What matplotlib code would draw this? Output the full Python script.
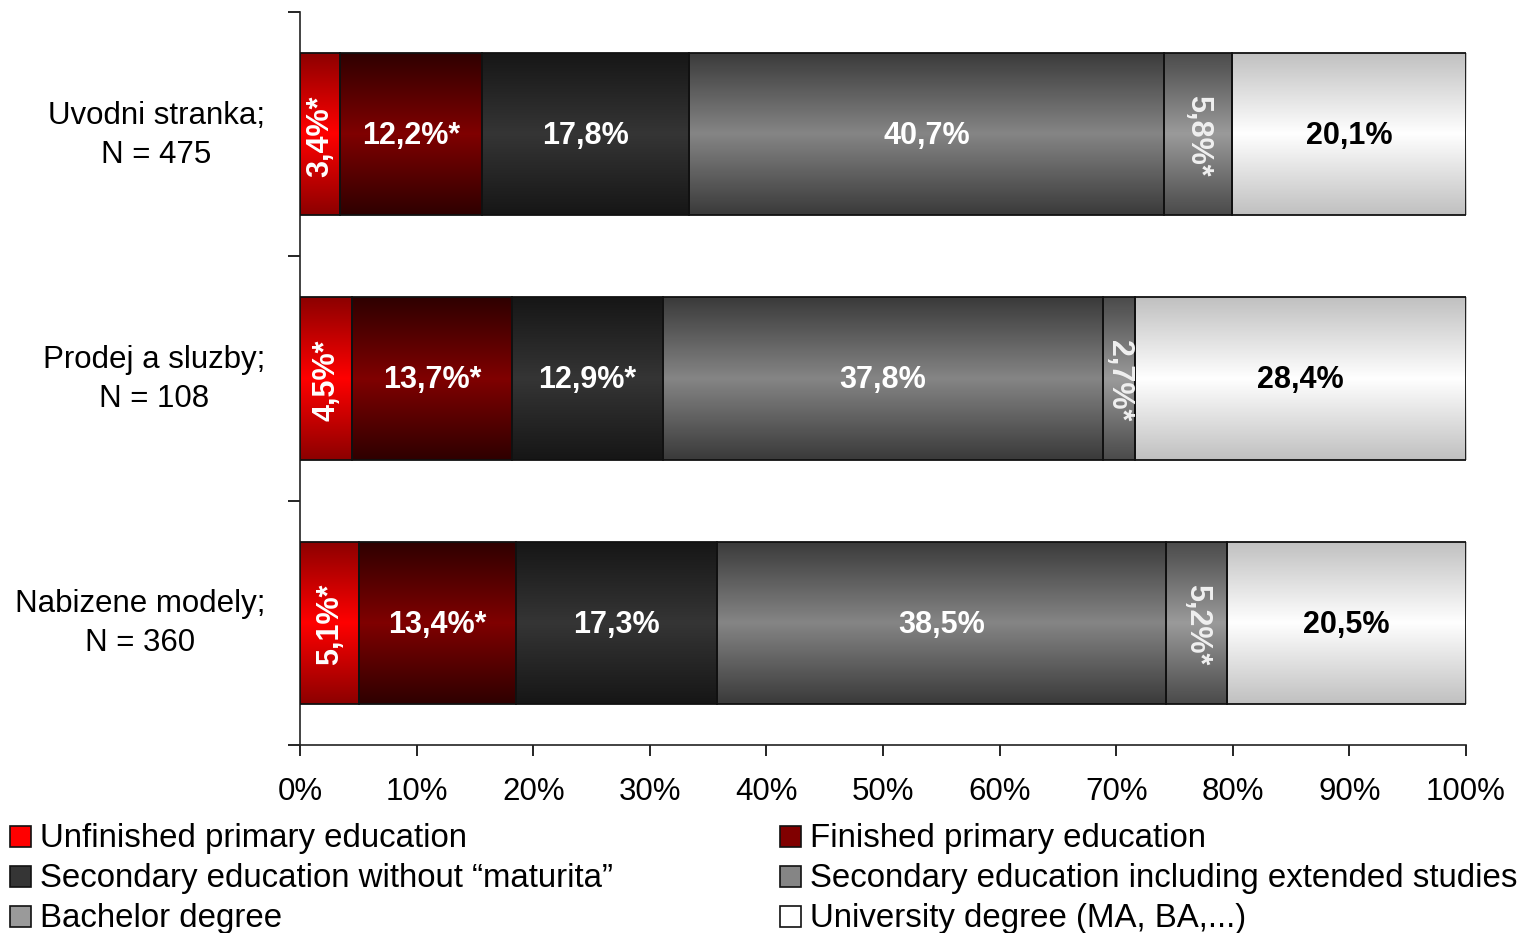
import numpy as np
import matplotlib
matplotlib.use("Agg")
import matplotlib.pyplot as plt
from matplotlib.patches import Rectangle

plt.rcParams['font.family'] = ['Liberation Sans', 'DejaVu Sans']

# --- data -------------------------------------------------------------
categories = ["Uvodni stranka;\nN = 475",
              "Prodej a sluzby;\nN = 108",
              "Nabizene modely;\nN = 360"]

series = ["Unfinished primary education",
          "Finished primary education",
          "Secondary education without \u201cmaturita\u201d",
          "Secondary education including extended studies",
          "Bachelor degree",
          "University degree (MA, BA,...)"]

# shares per row, in series order (percent)
uvodni = [3.4, 12.2, 17.8, 40.7, 5.8, 20.1]
prodej = [4.5, 13.7, 12.9, 37.8, 2.7, 28.4]
nabizene = [5.1, 13.4, 17.3, 38.5, 5.2, 20.5]
values = [uvodni, prodej, nabizene]

# small-sample flags (marked with an asterisk)
uvodni_flag = [True, True, False, False, True, False]
prodej_flag = [True, True, True, False, True, False]
nabizene_flag = [True, True, False, False, True, False]
flags = [uvodni_flag, prodej_flag, nabizene_flag]

xticks = [0, 10, 20, 30, 40, 50, 60, 70, 80, 90, 100]

# --- style --------------------------------------------------------------
# (edge colour, centre colour) for the vertical shading of each series
shades = [("#8c0000", "#ff0000"),
          ("#2e0000", "#800000"),
          ("#161616", "#353535"),
          ("#3a3a3a", "#858585"),
          ("#4a4a4a", "#9a9a9a"),
          ("#c0c0c0", "#ffffff")]
label_colors = ["white", "white", "white", "white", "#f0f0f0", "black"]
label_rot = [90, None, None, None, 270, None]

W, H = 1539, 933
fig = plt.figure(figsize=(W / 100, H / 100), dpi=100)
ax = fig.add_axes([300 / W, 1 - 745 / H, 1166 / W, 733 / H])

bar_h = 0.665
n = 256
t = 1 - np.abs(np.linspace(-1, 1, n))


def gradient(edge, centre):
    e = np.array(matplotlib.colors.to_rgb(edge))
    c = np.array(matplotlib.colors.to_rgb(centre))
    return (e[None, :] + (c - e)[None, :] * t[:, None])[:, None, :]


ypos = np.arange(len(categories))
left = np.zeros(len(categories))
for j, name in enumerate(series):
    widths = np.array([row[j] for row in values])
    bars = ax.barh(ypos, widths, left=left, height=bar_h,
                   color=shades[j][1], edgecolor="none", zorder=2, label=name)
    img = gradient(*shades[j])
    for p in bars.patches:
        x0, y0 = p.get_x(), p.get_y()
        im = ax.imshow(img, extent=(x0, x0 + p.get_width(), y0, y0 + p.get_height()),
                       aspect="auto", interpolation="bilinear", zorder=2.5)
        im.set_clip_path(p)
    ax.barh(ypos, widths, left=left, height=bar_h, facecolor="none",
            edgecolor="#111111", linewidth=1.3, zorder=3)
    for i in range(len(categories)):
        v = values[i][j]
        txt = f"{v:.1f}".replace(".", ",") + "%" + ("*" if flags[i][j] else "")
        rot = label_rot[j] if label_rot[j] is not None else 0
        ax.text(left[i] + v / 2, ypos[i] + 0.008, txt, ha="center", va="center",
                rotation=rot, color=label_colors[j], fontsize=22,
                fontweight="bold", zorder=4)
    left = left + widths

ax.set_xlim(0, 100)
ax.set_ylim(2.5, -0.5)
ax.set_aspect("auto")

ax.set_xticks(xticks)
ax.set_xticklabels([f"{x}%" for x in xticks], fontsize=22.5)
ax.tick_params(axis="x", direction="out", length=8, width=1.2, pad=15)

ax.set_yticks([-0.5, 0.5, 1.5, 2.5])
ax.set_yticklabels([])
ax.tick_params(axis="y", which="major", direction="out", length=9, width=1.2)

# category names, right-aligned left of the axis, lines centred
for i, cat in enumerate(categories):
    ax.text(-35 / 1166, ypos[i] + 0.004, cat, transform=ax.get_yaxis_transform(),
            ha="right", va="center", multialignment="center",
            linespacing=1.38, fontsize=22.5)

for s in ("top", "right"):
    ax.spines[s].set_visible(False)
for s in ("left", "bottom"):
    ax.spines[s].set_linewidth(1.2)
    ax.spines[s].set_color("#222222")

# --- legend (two columns, filled row by row) ---------------------------
col_x = [10, 780]
row_y = [836, 876, 916]
box = 21
for k, name in enumerate(series):
    cx = col_x[k % 2]
    cy = row_y[k // 2]
    fig.add_artist(Rectangle((cx / W, 1 - (cy + box / 2) / H), box / W, box / H,
                             transform=fig.transFigure, facecolor=shades[k][1],
                             edgecolor="#111111", linewidth=1.2))
    fig.text((cx + 30) / W, 1 - (cy + 2) / H, name, ha="left", va="center",
             fontsize=23.8)

fig.savefig("out.png", dpi=100)
